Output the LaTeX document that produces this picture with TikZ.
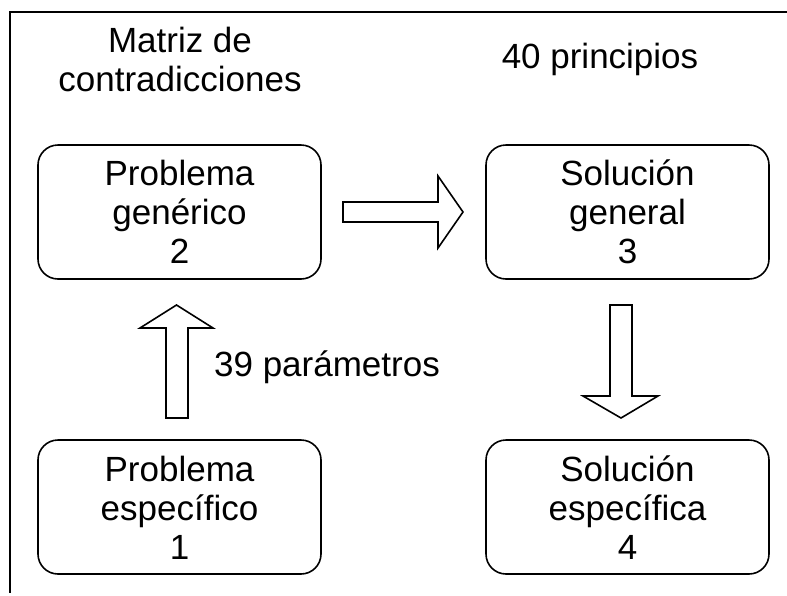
\documentclass[tikz,border=0pt]{standalone}
\usepackage{fontspec}
\setmainfont{Liberation Sans}
\begin{document}
\begin{tikzpicture}[x=1pt,y=-1pt,
  txt/.style={align=center,font=\fontsize{35}{39}\selectfont,inner sep=0pt},
  box/.style={draw,line width=1.6pt,rounded corners=20pt},
  blockarrow/.style={draw,line width=1.6pt,line join=miter,fill=white},
  frameline/.style={line width=1.6pt}]
\useasboundingbox (0,0) rectangle (787,595);
% frame
\coordinate (ftr) at (787,12);
\coordinate (ftl) at (10,12);
\coordinate (fbl) at (10,593);
\draw[frameline] (ftr) -- (ftl) -- (fbl);
% boxes
\draw[box] (38,145) rectangle (321,279);
\draw[box] (486,145) rectangle (769,279);
\draw[box] (38,440) rectangle (321,574);
\draw[box] (486,440) rectangle (769,574);
\node[txt] (b2) at (179.5,212) {Problema\\gen\'erico\\2};
\node[txt] (b3) at (627.5,212) {Soluci\'on\\general\\3};
\node[txt] (b1) at (179.5,508) {Problema\\espec\'ifico\\1};
\node[txt] (b4) at (627.5,508) {Soluci\'on\\espec\'ifica\\4};
% labels
\node[txt] (l1) at (180,59) {Matriz de\\contradicciones};
\node[txt] (l2) at (600,59) {40 principios};
\node[txt] (l3) at (327,367) {39 par\'ametros};
% block arrows
\draw[blockarrow] (343,202) -- (438,202) -- (438,176) -- (463,212) -- (438,248) -- (438,222) -- (343,222) -- cycle;
\draw[blockarrow] (166,418) -- (166,328) -- (140,328) -- (176.5,305) -- (213,328) -- (188,328) -- (188,418) -- cycle;
\draw[blockarrow] (610,305) -- (632,305) -- (632,396) -- (658,396) -- (621,418) -- (583,396) -- (610,396) -- cycle;
\end{tikzpicture}
\end{document}
